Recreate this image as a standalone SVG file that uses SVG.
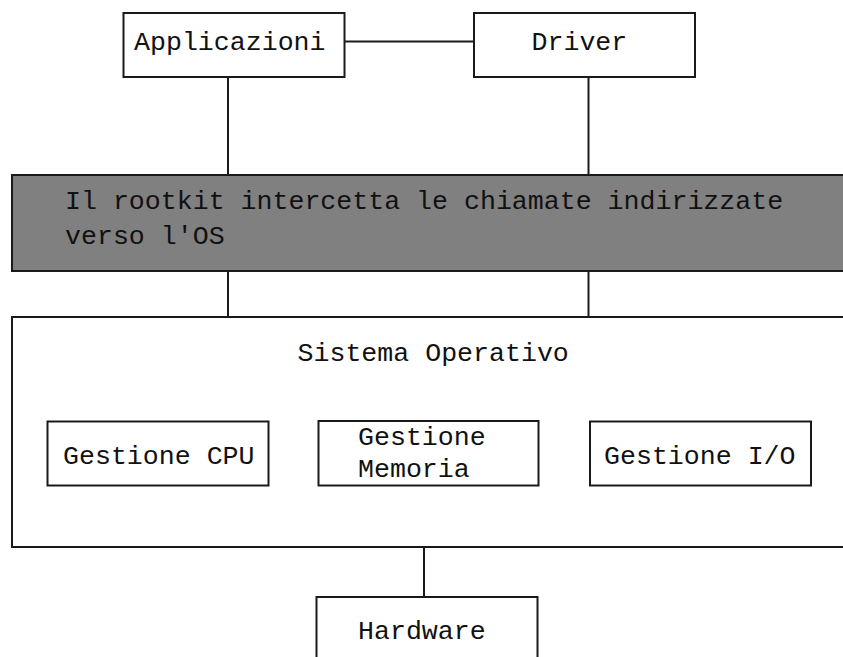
<svg xmlns="http://www.w3.org/2000/svg" width="843" height="657" viewBox="0 0 843 657">
<style>
.box{fill:#ffffff;stroke:#1a1a1a;stroke-width:2}
.gray{fill:#808080;stroke:#1a1a1a;stroke-width:2}
.con{stroke:#1a1a1a;stroke-width:2;fill:none}
.t{font-family:"Liberation Mono","Courier New",monospace;font-size:26.6px;fill:#111111}
</style>
<rect width="843" height="657" fill="#ffffff"/>
<g id="connectors">
<line class="con" x1="344" y1="41.5" x2="474" y2="41.5"/>
<line class="con" x1="228" y1="77" x2="228" y2="175"/>
<line class="con" x1="588.5" y1="77" x2="588.5" y2="175"/>
<line class="con" x1="228" y1="271" x2="228" y2="317"/>
<line class="con" x1="588.5" y1="271" x2="588.5" y2="317"/>
<line class="con" x1="424" y1="547" x2="424" y2="597"/>
</g>
<g id="applicazioni">
<rect class="box" x="123.5" y="13" width="221" height="64"/>
<text class="t" x="134" y="49.5">Applicazioni</text>
</g>
<g id="driver">
<rect class="box" x="474" y="13" width="221" height="64"/>
<text class="t" x="531.5" y="50">Driver</text>
</g>
<g id="rootkit">
<rect class="gray" x="12" y="175" width="850" height="96"/>
<text class="t" x="65" y="208.5">Il rootkit intercetta le chiamate indirizzate</text>
<text class="t" x="65" y="244">verso l'OS</text>
</g>
<g id="sistema-operativo">
<rect class="box" x="12" y="317" width="850" height="230"/>
<text class="t" x="297.5" y="361">Sistema Operativo</text>
</g>
<g id="gestione-cpu">
<rect class="box" x="47.5" y="421.5" width="221" height="64"/>
<text class="t" x="63" y="464">Gestione CPU</text>
</g>
<g id="gestione-memoria">
<rect class="box" x="318.5" y="421" width="220" height="64.5"/>
<text class="t" x="358" y="445">Gestione</text>
<text class="t" x="358" y="477">Memoria</text>
</g>
<g id="gestione-io">
<rect class="box" x="590" y="421.5" width="221" height="64"/>
<text class="t" x="604" y="463.5">Gestione I/O</text>
</g>
<g id="hardware">
<rect class="box" x="316.5" y="597" width="221" height="80"/>
<text class="t" x="358" y="638.5">Hardware</text>
</g>
</svg>
